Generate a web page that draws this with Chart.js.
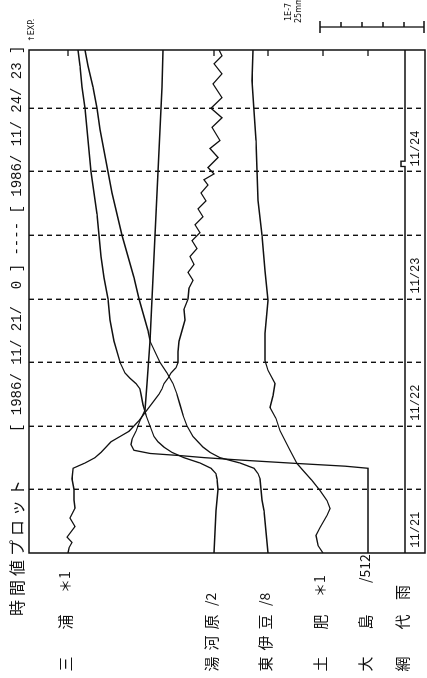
<!DOCTYPE html>
<html>
<head>
<meta charset="utf-8">
<script src="https://cdn.jsdelivr.net/npm/chart.js@4.4.1/dist/chart.umd.min.js"></script>
<style>
  body { margin: 0; background: #fff; overflow: hidden; }
  #wrap {
    position: absolute; left: 0; top: 0; width: 678px; height: 427px;
    transform-origin: 0 0;
    transform: translate(0, 678px) rotate(-90deg);
  }
</style>
</head>
<body>
<div id="wrap"><canvas id="plot" width="678" height="427"></canvas></div>
<script>
// hours from 1986/11/21 0:00, trace offsets
const miuraT = [0,1,2,3,5,6.6,8.5,10,12,14,16,17,18,19,20,21,22,23,24,25,26,27,28,29,30,31,32,33,34,35,36,38,40,42,44,46,48,50,51.5,53,54.5,56,57.5,59,60.5,62,63.5,65,66.5,68,69.5,70.5,71.6,72.8,74.7,76.4,77.9,80.4,82.2,84,86,88.6,90.5,92.4,93.9,95];
const miuraV = [68,69,72,67,75,70,75,74,74,72,73,85,95,101,106,111,120,129,134,139,143,147,151,155,159,162,164,168,171,176,178,178,179,182,185,184,188,189,193,188,194,190,197,192,200,195,203,198,206,201,208,204,214,208,218,210,220,212,222,211,222,213,222,214,222,219];

const yugawaraT = [0,4,8,12,14,15,16,17,18,19,20,21,22,24,26,28,30,31,32,33,34,36,40,44,48,52,56,60,64,68,72,76,80,84,88,92,95];
const yugawaraV = [214,215,216,218,217,216,211,200,184,172,164,158,154,150,146,143,141,140,136,130,125,120,114,110,108,104,101,99,97,94,91,89,87,85,82,80,78];

const higashiIzuT = [0,4,8,10,12,14,15,16,17,18,19,20,21,22,24,26,28,30,32,34,36,38,40,42,44,46,48,52,56,60,64,68,72,76,80,84,88,92,95];
const higashiIzuV = [268,266,264,262,261,260,258,254,240,220,210,203,198,193,187,183,180,177,173,167,160,155,150,148,145,142,139,134,128,122,117,112,108,104,100,97,93,88,85];

const toiT = [0,1.4,3.3,4.8,7.1,8.4,9.9,11.8,13.7,15.6,16.9,19.4,23.1,25.4,27.5,29.7,32,34.5,36.4,41.5,47.7,53.3,60,66.6,72.2,77.9,83.5,89.2,95];
const toiV = [323,318,316,320,327,330,327,320,312,303,297,290,280,276,270,273,275,268,265,265,268,265,262,258,257,256,254,252,253];

const oshimaT = [0,16,16.4,16.9,17.5,18,18.4,18.8,19.4,20.5,21.5,23,25,27,32,40,48,56,64,72,80,88,95];
const oshimaV = [368,368,345,298,245,205,180,150,134,131,132,136,140,145,147,150,152,154,156,158,160,162,163];

const ajiroT = [0,73,74,95];
const ajiroV = [405,401,405,405];

const gridHours = [12,24,36,48,60,72,84];
const dayLabels = ['11/21','11/22','11/23','11/24'];
const dayLabelHours = [1,25,49,73];

const stations = [
  { name: ['三','','浦'], unit: '＊1',  t: miuraT, v: miuraV },
  { name: ['湯','河','原'], unit: '/2', t: yugawaraT, v: yugawaraV },
  { name: ['東','伊','豆'], unit: '/8', t: higashiIzuT, v: higashiIzuV },
  { name: ['土','','肥'], unit: '＊1',  t: toiT, v: toiV },
  { name: ['大','','島'], unit: '/512', t: oshimaT, v: oshimaV },
  { name: ['網','','代'], unit: '雨',  t: ajiroT, v: ajiroV }
];
const unitX = [85, 72, 72, 81, 95, 78];

function pts(t, v) {
  return t.map((h, i) => ({ x: h, y: v[i] }));
}

const jp = '"Noto Sans CJK JP", sans-serif';
const mono = '"Liberation Mono", "DejaVu Sans Mono", monospace';

const decor = {
  id: 'decor',
  afterDraw(chart) {
    const ctx = chart.ctx;
    const a = chart.chartArea;
    const xs = chart.scales.x;
    const ys = chart.scales.y;
    ctx.save();
    ctx.strokeStyle = '#111';
    ctx.fillStyle = '#111';
    ctx.lineWidth = 1.5;
    ctx.strokeRect(a.left, a.top, a.right - a.left, a.bottom - a.top);

    // baseline marks at the end of the frame
    ctx.lineWidth = 1.3;
    stations.slice(0, 5).forEach(s => {
      const y = ys.getPixelForValue(s.v[0]);
      ctx.beginPath();
      ctx.moveTo(a.right, y);
      ctx.lineTo(a.right - 6, y);
      ctx.stroke();
    });

    // day labels
    ctx.font = '12px ' + mono;
    ctx.textBaseline = 'middle';
    ctx.textAlign = 'left';
    dayLabels.forEach((s, i) => {
      ctx.fillText(s, xs.getPixelForValue(dayLabelHours[i]), 416);
    });

    // title
    ctx.font = '16px ' + jp;
    ctx.textAlign = 'center';
    '時間値プロット'.split('').forEach((c, i) => ctx.fillText(c, 70 + i * 20, 17));
    ctx.textAlign = 'left';
    ctx.font = '14px ' + mono;
    ctx.fillText('[ 1986/ 11/ 21/  0 ] ---- [ 1986/ 11/ 24/ 23 ]', 246, 17);

    ctx.font = '8px "DejaVu Sans"';
    ctx.fillText('↑EXP.', 636, 32);

    // station names
    stations.forEach((s, i) => {
      const y = ys.getPixelForValue(s.v[0]) - 3;
      ctx.font = '15px ' + jp;
      ctx.textAlign = 'center';
      s.name.forEach((c, k) => { if (c) ctx.fillText(c, 14 + k * 21, y); });
      ctx.textAlign = 'left';
      ctx.font = (s.unit === '雨' ? '15px ' : '14px ') + jp;
      ctx.fillText(s.unit, unitX[i], y);
    });

    // scale bar
    ctx.lineWidth = 1.3;
    ctx.beginPath();
    ctx.moveTo(651, 320); ctx.lineTo(651, 424);
    ctx.moveTo(645, 320); ctx.lineTo(657, 320);
    ctx.moveTo(645, 424); ctx.lineTo(657, 424);
    [341, 362, 383, 404].forEach(y => { ctx.moveTo(651, y); ctx.lineTo(656, y); });
    ctx.stroke();
    ctx.font = '8px "DejaVu Sans"';
    ctx.fillText('1E-7', 657, 289);
    ctx.fillText('25mm', 655, 299);
    ctx.restore();
  }
};

new Chart(document.getElementById('plot'), {
  type: 'scatter',
  data: {
    datasets: stations.map((s, i) => ({
      label: s.name.join(''),
      data: pts(s.t, s.v),
      showLine: true,
      stepped: i === 5,
      borderColor: '#111',
      borderWidth: 1.3,
      pointRadius: 0,
      tension: 0
    }))
  },
  options: {
    responsive: false,
    animation: false,
    devicePixelRatio: 1,
    layout: { padding: { left: 125, right: 50, top: 29, bottom: 2 } },
    plugins: { legend: { display: false }, tooltip: { enabled: false } },
    scales: {
      x: {
        type: 'linear', min: 0, max: 95,
        afterBuildTicks: sc => { sc.ticks = gridHours.map(h => ({ value: h })); },
        ticks: { display: false },
        grid: { color: '#111', lineWidth: 1.4, drawTicks: false },
        border: { display: false, dash: [5, 4] }
      },
      y: {
        type: 'linear', min: 29, max: 425, reverse: true,
        display: false
      }
    }
  },
  plugins: [decor]
});
</script>
</body>
</html>
